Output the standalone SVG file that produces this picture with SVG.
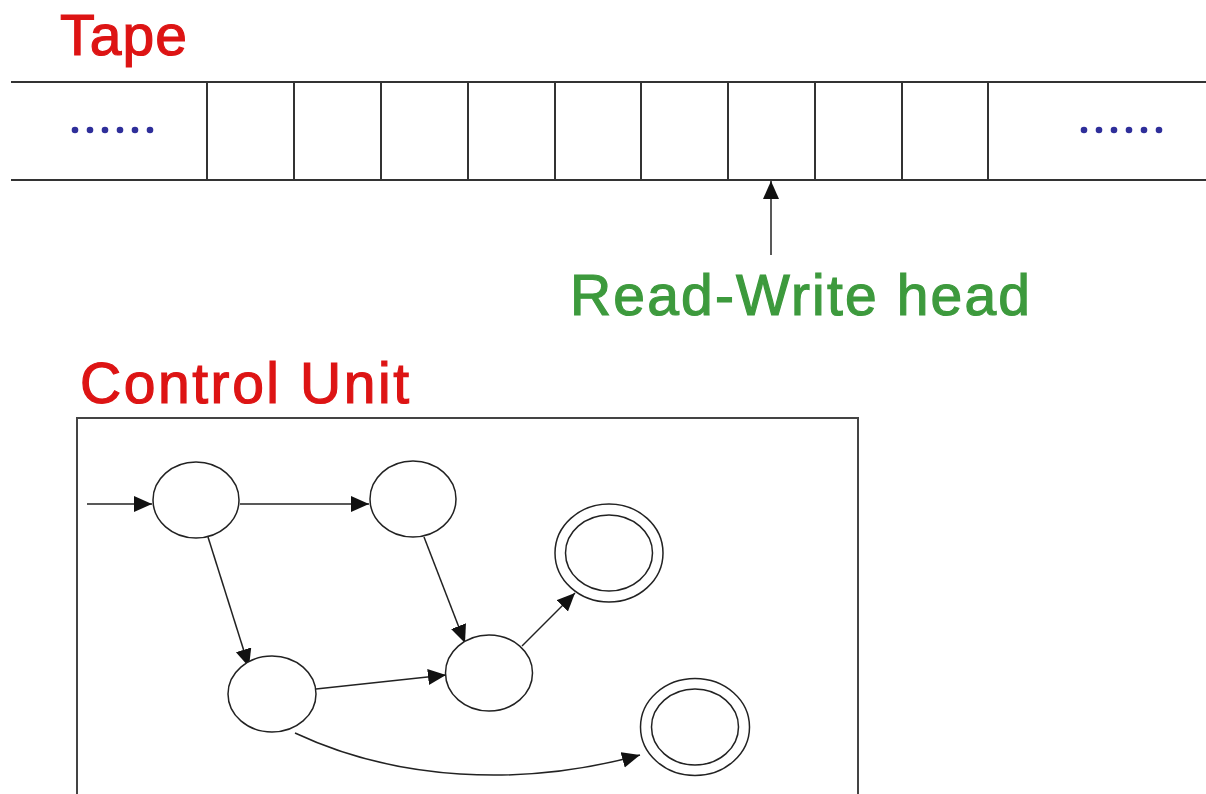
<svg xmlns="http://www.w3.org/2000/svg" width="1206" height="794" viewBox="0 0 1206 794">
  <style>
    .title { font-family: "Liberation Sans", Arial, sans-serif; font-size: 57px; fill: #dd1414; stroke: #dd1414; stroke-width: 1.2; }
    .head { font-family: "Liberation Sans", Arial, sans-serif; font-size: 57px; fill: #3d9a3d; stroke: #3d9a3d; stroke-width: 1.2; }
    .tape { stroke: #333; stroke-width: 2; fill: none; }
    .dot { fill: #2e2e9a; }
    .state { fill: #fff; stroke: #222; stroke-width: 1.5; }
    .edge { fill: none; stroke: #222; stroke-width: 1.5; }
  </style>
  <defs>
    <marker id="arrow" markerUnits="userSpaceOnUse" markerWidth="19" markerHeight="17" refX="18" refY="8" orient="auto">
      <path d="M0,0 L18,8 L0,16 Z" fill="#111"/>
    </marker>
  </defs>

  <rect width="1206" height="794" fill="#fff"/>

  <!-- Tape -->
  <text class="title" x="60" y="55" textLength="127">Tape</text>
  <g id="tape">
    <line class="tape" x1="11" y1="82" x2="1206" y2="82"/>
    <line class="tape" x1="11" y1="180" x2="1206" y2="180"/>
    <line class="tape" x1="207" y1="82" x2="207" y2="180"/>
    <line class="tape" x1="294" y1="82" x2="294" y2="180"/>
    <line class="tape" x1="381" y1="82" x2="381" y2="180"/>
    <line class="tape" x1="468" y1="82" x2="468" y2="180"/>
    <line class="tape" x1="555" y1="82" x2="555" y2="180"/>
    <line class="tape" x1="641" y1="82" x2="641" y2="180"/>
    <line class="tape" x1="728" y1="82" x2="728" y2="180"/>
    <line class="tape" x1="815" y1="82" x2="815" y2="180"/>
    <line class="tape" x1="902" y1="82" x2="902" y2="180"/>
    <line class="tape" x1="988" y1="82" x2="988" y2="180"/>
    <g id="dots-left">
      <circle class="dot" cx="75" cy="130" r="3.3"/>
      <circle class="dot" cx="90" cy="130" r="3.3"/>
      <circle class="dot" cx="105" cy="130" r="3.3"/>
      <circle class="dot" cx="120" cy="130" r="3.3"/>
      <circle class="dot" cx="135" cy="130" r="3.3"/>
      <circle class="dot" cx="150" cy="130" r="3.3"/>
    </g>
    <g id="dots-right">
      <circle class="dot" cx="1084" cy="130" r="3.3"/>
      <circle class="dot" cx="1099" cy="130" r="3.3"/>
      <circle class="dot" cx="1114" cy="130" r="3.3"/>
      <circle class="dot" cx="1129" cy="130" r="3.3"/>
      <circle class="dot" cx="1144" cy="130" r="3.3"/>
      <circle class="dot" cx="1159" cy="130" r="3.3"/>
    </g>
  </g>

  <!-- Read-write head pointer -->
  <g id="head">
    <line class="edge" x1="771" y1="255" x2="771" y2="181" marker-end="url(#arrow)"/>
    <text class="head" x="570" y="315" textLength="460">Read-Write head</text>
  </g>

  <!-- Control unit -->
  <text class="title" x="80" y="403" textLength="329">Control Unit</text>
  <rect id="control-box" x="77" y="418" width="781" height="400" fill="none" stroke="#444" stroke-width="2"/>

  <g id="connectors">
    <line class="edge" x1="87" y1="504" x2="152" y2="504" marker-end="url(#arrow)"/>
    <line class="edge" x1="240" y1="504" x2="369" y2="504" marker-end="url(#arrow)"/>
    <line class="edge" x1="208" y1="537" x2="249" y2="667" marker-end="url(#arrow)"/>
    <line class="edge" x1="424" y1="537" x2="465" y2="643" marker-end="url(#arrow)"/>
    <line class="edge" x1="316" y1="689" x2="446" y2="675" marker-end="url(#arrow)"/>
    <line class="edge" x1="522" y1="646" x2="575" y2="593" marker-end="url(#arrow)"/>
    <path class="edge" d="M295,733 C395,780 520,788 640,755" marker-end="url(#arrow)"/>
  </g>

  <g id="q0"><ellipse class="state" cx="196" cy="500" rx="43" ry="38"/></g>
  <g id="q1"><ellipse class="state" cx="413" cy="499" rx="43" ry="38"/></g>
  <g id="q2"><ellipse class="state" cx="272" cy="694" rx="44" ry="38"/></g>
  <g id="q3"><ellipse class="state" cx="489" cy="673" rx="43.5" ry="38"/></g>
  <g id="q4">
    <ellipse class="state" cx="609" cy="553" rx="54" ry="49"/>
    <ellipse class="state" cx="609" cy="553" rx="43.5" ry="38"/>
  </g>
  <g id="q5">
    <ellipse class="state" cx="695" cy="727" rx="54.5" ry="48.5"/>
    <ellipse class="state" cx="695" cy="727" rx="43.5" ry="38"/>
  </g>
</svg>
